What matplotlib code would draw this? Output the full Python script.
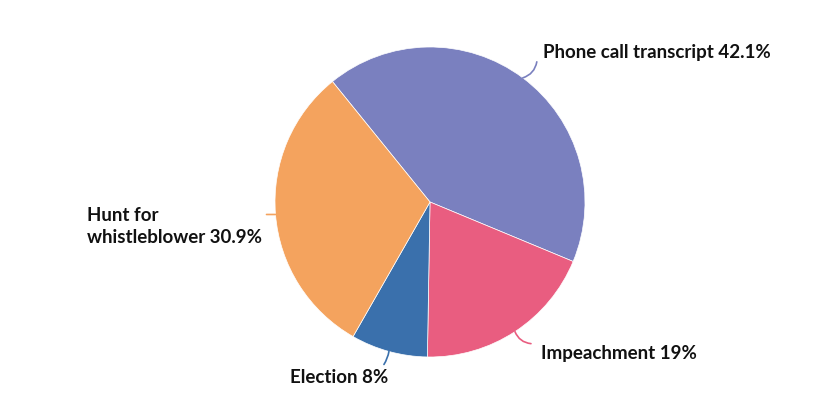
import numpy as np
import matplotlib
matplotlib.use("Agg")
import matplotlib.pyplot as plt

# Share of coverage by topic
topics = ["Phone call transcript", "Impeachment", "Election", "Hunt for\nwhistleblower"]
shares = [42.1, 19, 8, 30.9]
share_labels = ["42.1%", "19%", "8%", "30.9%"]
colors = ["#7a80bf", "#e95d80", "#3a70ac", "#f4a35e"]

plt.rcParams["font.family"] = ["Lato", "DejaVu Sans"]

fig = plt.figure(figsize=(8.4, 4.0), dpi=100)
ax = fig.add_axes([0, 0, 1, 1])

cx, cy, r = 430, 198, 155
wedges, _ = ax.pie(shares, colors=colors, startangle=129, counterclock=False,
                   center=(cx, cy), radius=r, frame=True,
                   wedgeprops=dict(edgecolor="white", linewidth=0.5))
ax.set_xlim(0, 840)
ax.set_ylim(0, 400)
ax.set_aspect("equal")
ax.axis("off")

# connector end offsets (dx, dy, rad) and label offsets from connector end
conn = [(14, 16, 0.3), (16, -12, 0.3), (-5, -13, -0.1), (-9, 0, 0.0)]
lab = [(6, 9, "left", "center"), (10, -10, "left", "center"),
       (4, -13, "right", "center"), (-5, -12, "right", "center")]

for w, t, s, c, (dx, dy, rad), (lx, ly, ha, va) in zip(wedges, topics, share_labels, colors, conn, lab):
    ang = np.deg2rad((w.theta1 + w.theta2) / 2)
    x0, y0 = cx + r * np.cos(ang), cy + r * np.sin(ang)
    x1, y1 = x0 + dx, y0 + dy
    ax.annotate("", xy=(x1, y1), xytext=(x0, y0),
                arrowprops=dict(arrowstyle="-", color=c, lw=1.2,
                                connectionstyle=f"arc3,rad={rad}",
                                shrinkA=0, shrinkB=0))
    ax.text(x1 + lx, y1 + ly, f"{t} {s}", ha=ha, va=va, fontsize=13.5,
            fontweight="bold", color="#111111", multialignment="left",
            linespacing=1.35)

fig.savefig("out.png", dpi=100, facecolor="white")
